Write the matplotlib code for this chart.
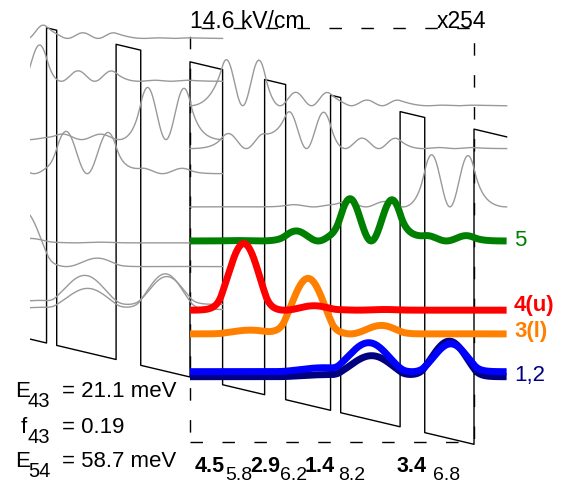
import numpy as np
import matplotlib
matplotlib.use("Agg")
import matplotlib.pyplot as plt
from matplotlib.patches import Rectangle

# ---------------- data ----------------
layer_thickness_nm = [4.5, 5.8, 2.9, 6.2, 1.4, 8.2, 3.4, 6.8]
layer_is_barrier = [True, False, True, False, True, False, True, False]
field_kV_per_cm = 14.6
band_offset_meV = 268.0
mass_well = 0.067
mass_barrier = 0.092
gap_well_meV = 1519.0
gap_barrier_meV = 1893.0
psi_scale_label = 'x254'
psi_plot_scale = 275.0     # meV*nm per (1/nm) of |psi|^2, read from peak heights
n_states_shown = 8
colored_state_colors = ['#000080', '#0000ff', '#ff8000', '#ff0000', '#008000']
state_labels = ['5', '4(u)', '3(l)', '1,2']
state_label_colors = ['#008000', '#ff0000', '#ff8000', '#000080']
state_label_bold = [False, True, True, False]
info_names = ['E', 'f', 'E']
info_subs = ['43', '43', '54']
info_values = ['= 21.1 meV', '= 0.19', '= 58.7 meV']
grey = '#999999'

# ---------------- Schroedinger solver for one period ----------------
period = float(np.sum(layer_thickness_nm))
bounds = np.concatenate([[0.0], np.cumsum(layer_thickness_nm)])
ext = layer_thickness_nm[0]
F = field_kV_per_cm * 0.1  # meV / nm
HB = 38.0998  # hbar^2 / (2 m0) in meV nm^2


def barrier_at(xx):
    pos = np.mod(xx, period)
    idx = np.clip(np.searchsorted(bounds, pos, side='right') - 1, 0, len(layer_is_barrier) - 1)
    return np.array(layer_is_barrier)[idx]


dx = 0.05
x = np.arange(0.0, period + ext + dx / 2, dx)
isb = barrier_at(x)
V = band_offset_meV * isb - F * x
m0 = np.where(isb, mass_barrier, mass_well)
Eg = np.where(isb, gap_barrier_meV, gap_well_meV)


def solve(mass):
    mh = 0.5 * (mass[:-1] + mass[1:])
    t = HB / (mh * dx * dx)
    diag = V[1:-1] + t[:-1] + t[1:]
    off = -t[1:-1]
    Hm = np.diag(diag) + np.diag(off, 1) + np.diag(off, -1)
    return np.linalg.eigh(Hm)


E0, _ = solve(m0)
E = np.zeros(n_states_shown)
psi = np.zeros((n_states_shown, len(x)))
for n in range(n_states_shown):
    e = E0[n]
    for it in range(6):
        mass = m0 * (1.0 + (e - V) / Eg)
        ev, vec = solve(mass)
        k = int(np.argmin(np.abs(ev - e)))
        e = ev[k]
    E[n] = e
    psi[n, 1:-1] = vec[:, k]
psi /= np.sqrt(np.sum(psi ** 2, axis=1, keepdims=True) * dx)
dens = psi ** 2

# ---------------- figure ----------------
W, Hpx = 564, 482
fig = plt.figure(figsize=(W / 100, Hpx / 100), dpi=100)
plt.rcParams['font.family'] = ['Liberation Sans', 'DejaVu Sans']
plt.rcParams['lines.scale_dashes'] = False

px_per_nm = 7.245
px_per_meV = 1.176
x0_px, y0_px = 190.0, 377.0
left_px = 30.0
ax = fig.add_axes([left_px / W, 0, 1 - left_px / W, 1])
ax.set_xlim((left_px - x0_px) / px_per_nm, (W - x0_px) / px_per_nm)
ax.set_ylim((y0_px - Hpx) / px_per_meV, y0_px / px_per_meV)
ax.axis('off')

# band profile over previous period + this period + next injection barrier
lay = list(layer_thickness_nm) * 2 + [layer_thickness_nm[0]]
bar = list(layer_is_barrier) * 2 + [layer_is_barrier[0]]
xs, vs = [], []
pos = -period
for d, b in zip(lay, bar):
    h = band_offset_meV if b else 0.0
    xs += [pos, pos + d]
    vs += [h - F * pos, h - F * (pos + d)]
    pos += d
ax.plot(xs, vs, color='black', lw=1.0, zorder=2)

# dashed period box
box_top = (y0_px - 28) / px_per_meV
box_bot = (y0_px - 442) / px_per_meV
ax.add_patch(Rectangle((0, box_bot), period, box_top - box_bot, fill=False,
                       ec='black', lw=1.0, ls=(0, (9, 14)), zorder=1))

# previous period copies (grey)
for i in range(n_states_shown):
    ax.plot(x - period, E[i] + F * period + psi_plot_scale * dens[i], color=grey, lw=1.0, zorder=3)
# higher states of this period (grey)
for i in range(len(colored_state_colors), n_states_shown):
    ax.plot(x, E[i] + psi_plot_scale * dens[i], color=grey, lw=1.0, zorder=3)
# coloured states (red on top)
for z, i in enumerate([0, 1, 2, 4, 3]):
    ax.plot(x, E[i] + psi_plot_scale * dens[i], color=colored_state_colors[i], lw=5,
            zorder=5 + z, solid_capstyle='butt')


def ftext(xp, yp, s, **kw):
    fig.text(xp / W, 1 - yp / Hpx, s, **kw)


ftext(190, 28, '%.1f kV/cm' % field_kV_per_cm, fontsize=16.5, va='baseline')
ftext(437, 28, psi_scale_label, fontsize=16.5, va='baseline')

label_y = [240, 306, 331, 375]
for s, c, b, yy in zip(state_labels, state_label_colors, state_label_bold, label_y):
    ftext(514, yy, s, color=c, fontsize=16, va='center',
          fontweight='bold' if b else 'normal')

info_x = [15, 21, 15]
info_base = [397, 433, 467]
for nm, sb, val, xx, yb in zip(info_names, info_subs, info_values, info_x, info_base):
    ftext(xx, yb, nm, fontsize=16, va='baseline')
    ftext(28, yb + 10, sb, fontsize=14.5, va='baseline')
    ftext(62, yb, val, fontsize=16, va='baseline')

# layer sequence labels
lab_x_bold = [195, 250, 305, 397]
lab_x_sub = [225, 280, 338, 433]
for k in range(4):
    ftext(lab_x_bold[k], 472, '%.1f' % layer_thickness_nm[2 * k], fontsize=15.5,
          fontweight='bold', va='baseline')
    ftext(lab_x_sub[k], 480, '%.1f' % layer_thickness_nm[2 * k + 1], fontsize=14,
          va='baseline')

fig.savefig('out.png', dpi=100)
